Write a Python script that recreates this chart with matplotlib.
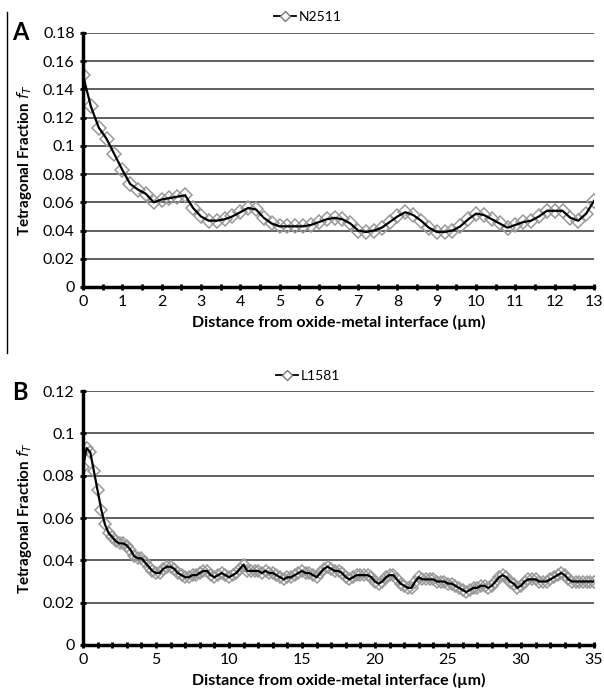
import numpy as np
import matplotlib
matplotlib.use("Agg")
import matplotlib.pyplot as plt
from matplotlib.lines import Line2D

plt.rcParams['font.family'] = ['Lato', 'DejaVu Sans']

# Panel A: N2511, 0.2 um steps
dist_a = np.round(np.arange(0, 13.01, 0.2), 2)
frac_a = [0.150, 0.128, 0.113, 0.105, 0.094, 0.083, 0.073, 0.069, 0.066, 0.060,
          0.062, 0.063, 0.064, 0.065, 0.056, 0.050, 0.047, 0.047, 0.048, 0.050,
          0.053, 0.056, 0.055, 0.049, 0.045, 0.043, 0.043, 0.043, 0.043, 0.044,
          0.046, 0.048, 0.049, 0.048, 0.045, 0.040, 0.039, 0.040, 0.042, 0.046,
          0.050, 0.053, 0.051, 0.047, 0.042, 0.039, 0.039, 0.040, 0.043, 0.048,
          0.052, 0.051, 0.048, 0.045, 0.042, 0.044, 0.046, 0.047, 0.050, 0.054,
          0.054, 0.054, 0.049, 0.047, 0.052, 0.061]

# Panel B: L1581, 0.25 um steps
dist_b = np.round(np.arange(0, 35.01, 0.25), 2)
frac_b = [0.084, 0.093, 0.091, 0.082, 0.073, 0.064, 0.057, 0.053, 0.051, 0.049,
          0.048, 0.048, 0.047, 0.045, 0.042, 0.041, 0.041, 0.039, 0.037, 0.035,
          0.034, 0.034, 0.036, 0.037, 0.037, 0.036, 0.034, 0.033, 0.032, 0.032,
          0.033, 0.033, 0.034, 0.035, 0.035, 0.033, 0.032, 0.033, 0.034, 0.033,
          0.032, 0.033, 0.034, 0.036, 0.038, 0.035, 0.035, 0.035, 0.035, 0.034,
          0.035, 0.034, 0.034, 0.033, 0.032, 0.031, 0.032, 0.032, 0.033, 0.034,
          0.035, 0.034, 0.034, 0.033, 0.032, 0.034, 0.036, 0.037, 0.036, 0.035,
          0.035, 0.034, 0.032, 0.031, 0.032, 0.033, 0.033, 0.033, 0.033, 0.032,
          0.030, 0.029, 0.030, 0.032, 0.033, 0.033, 0.031, 0.029, 0.028, 0.027,
          0.027, 0.030, 0.032, 0.031, 0.031, 0.031, 0.031, 0.030, 0.030, 0.030,
          0.029, 0.029, 0.028, 0.027, 0.026, 0.025, 0.026, 0.027, 0.027, 0.028,
          0.028, 0.027, 0.028, 0.030, 0.032, 0.033, 0.032, 0.030, 0.029, 0.027,
          0.028, 0.030, 0.031, 0.031, 0.031, 0.030, 0.030, 0.030, 0.031, 0.032,
          0.033, 0.034, 0.033, 0.031, 0.030, 0.030, 0.030, 0.030, 0.030, 0.030,
          0.030]

fig = plt.figure(figsize=(6.04, 6.98), dpi=100)
W, H = 604, 698


def make_axes(x0, y_top, x1, y_bot):
    return fig.add_axes([x0 / W, 1 - y_bot / H, (x1 - x0) / W, (y_bot - y_top) / H])


ax_a = make_axes(83, 33, 594, 287)
ax_b = make_axes(83, 391, 594, 645)

panels = [
    (ax_a, dist_a, frac_a, "N2511", 13, 0.18, 0.02, 1, 0.5, 7, "A", 33),
    (ax_b, dist_b, frac_b, "L1581", 35, 0.12, 0.02, 5, 1, 6, "B", 392),
]

for ax, xs, ys, name, xmax, ymax, ystep, xmaj, xmin, msize, letter, ly in panels:
    ax.plot(xs, ys, linestyle='none', marker='D', markersize=msize,
            markerfacecolor='none', markeredgecolor='#999999', markeredgewidth=1.1, zorder=3)
    ax.plot(xs, ys, color='black', linewidth=1.6, zorder=4)
    ax.set_xlim(0, xmax)
    ax.set_ylim(0, ymax)
    yt = np.round(np.arange(0, ymax + 1e-9, ystep), 2)
    ax.set_yticks(yt)
    ax.set_yticklabels(['0' if v == 0 else f'{v:g}' for v in yt])
    ax.set_xticks(np.arange(0, xmax + 0.01, xmaj))
    ax.set_xticks(np.arange(0, xmax + 0.01, xmin), minor=True)
    for v in yt[1:]:
        ax.axhline(v, color='#444444', linewidth=1.2, zorder=1)
    for s in ['top', 'right']:
        ax.spines[s].set_visible(False)
    for s in ['left', 'bottom']:
        ax.spines[s].set_linewidth(2.5)
        ax.spines[s].set_zorder(5)
    ax.tick_params(axis='both', which='major', labelsize=11.5, width=2, length=5,
                   direction='inout', colors='black')
    ax.tick_params(axis='x', which='minor', width=2, length=4, direction='inout')
    ax.set_xlabel("Distance from oxide-metal interface (µm)", fontsize=11.5,
                  fontweight='bold', labelpad=4)
    ax.set_ylabel(r"Tetragonal Fraction $\boldsymbol{f_T}$", fontsize=11,
                  fontweight='bold', labelpad=6)
    handle = Line2D([], [], color='black', linewidth=1.3, marker='D', markersize=5,
                    markerfacecolor='white', markeredgecolor='#777777')
    ax.legend([handle], [name], loc='center', frameon=False, fontsize=10,
              handlelength=1.6, handletextpad=0.2,
              bbox_to_anchor=(308 / W, 1 - (ly - 16) / H), bbox_transform=fig.transFigure)
    fig.text(12 / W, 1 - ly / H, letter, fontsize=17, fontweight='bold',
             ha='left', va='center')

# thin frame line on the left edge of panel A
fig.add_artist(Line2D([7 / W, 7 / W], [1 - 12 / H, 1 - 353 / H], color='black',
                      linewidth=1.0, transform=fig.transFigure))

fig.savefig("out.png", dpi=100, facecolor='white')
